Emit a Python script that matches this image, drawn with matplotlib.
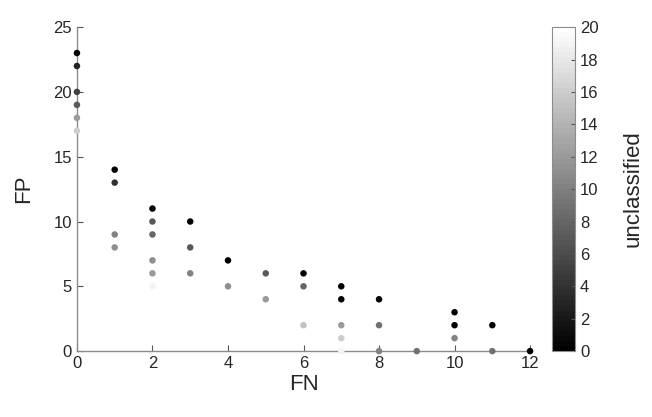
import numpy as np
import matplotlib
matplotlib.use("Agg")
import matplotlib.pyplot as plt

plt.rcParams['font.family'] = ['Liberation Sans', 'DejaVu Sans']

# FN, FP, number unclassified
fn = [0, 0, 0, 0, 0, 0,
      1, 1, 1, 1,
      2, 2, 2, 2, 2, 2,
      3, 3, 3,
      4, 4,
      5, 5,
      6, 6, 6,
      7, 7, 7, 7, 7,
      8, 8, 8,
      9,
      10, 10, 10,
      11, 11,
      12]
fp = [23, 22, 20, 19, 18, 17,
      14, 13, 9, 8,
      11, 10, 9, 7, 6, 5,
      10, 8, 6,
      7, 5,
      6, 4,
      6, 5, 2,
      5, 4, 2, 1, 0,
      4, 2, 0,
      0,
      3, 2, 1,
      2, 0,
      0]
unclassified = [0, 3, 5, 7, 12, 16,
                0, 4, 10, 11,
                0, 7, 8, 11, 12, 19,
                0, 7, 10,
                0, 11,
                7, 12,
                0, 8, 15,
                0, 0, 12, 16, 19,
                0, 9, 10,
                9,
                0, 0, 10,
                0, 9,
                0]

fig = plt.figure(figsize=(6.52, 4.17), dpi=100)
ax = fig.add_axes([0.118, 0.158, 0.695, 0.777])
cax = fig.add_axes([0.847, 0.158, 0.035, 0.777])

cmap = plt.get_cmap('gray', 64)
sc = ax.scatter(fn, fp, c=unclassified, cmap=cmap, vmin=0, vmax=20,
                s=22, edgecolors='none', clip_on=False, zorder=3)

ax.set_xlim(0, 12)
ax.set_ylim(0, 25)
ax.set_xticks(range(0, 13, 2))
ax.set_yticks(range(0, 26, 5))
for s in ['top', 'right']:
    ax.spines[s].set_visible(False)
for s in ['left', 'bottom']:
    ax.spines[s].set_color('#8c8c8c')
    ax.spines[s].set_linewidth(1.0)
ax.tick_params(direction='in', length=4, color='#555555', labelsize=12,
               labelcolor='#262626')
ax.set_xlabel('FN', fontsize=16, color='#262626', labelpad=2)
ax.set_ylabel('FP', fontsize=16, color='#262626', labelpad=14)

cb = fig.colorbar(sc, cax=cax)
cb.set_ticks(range(0, 21, 2))
cb.outline.set_edgecolor('#8c8c8c')
cax.tick_params(direction='in', length=3, color='#555555', labelsize=12,
                labelcolor='#262626')
cb.set_label('unclassified', fontsize=16, color='#262626', labelpad=17)

fig.savefig('out.png', dpi=100)
